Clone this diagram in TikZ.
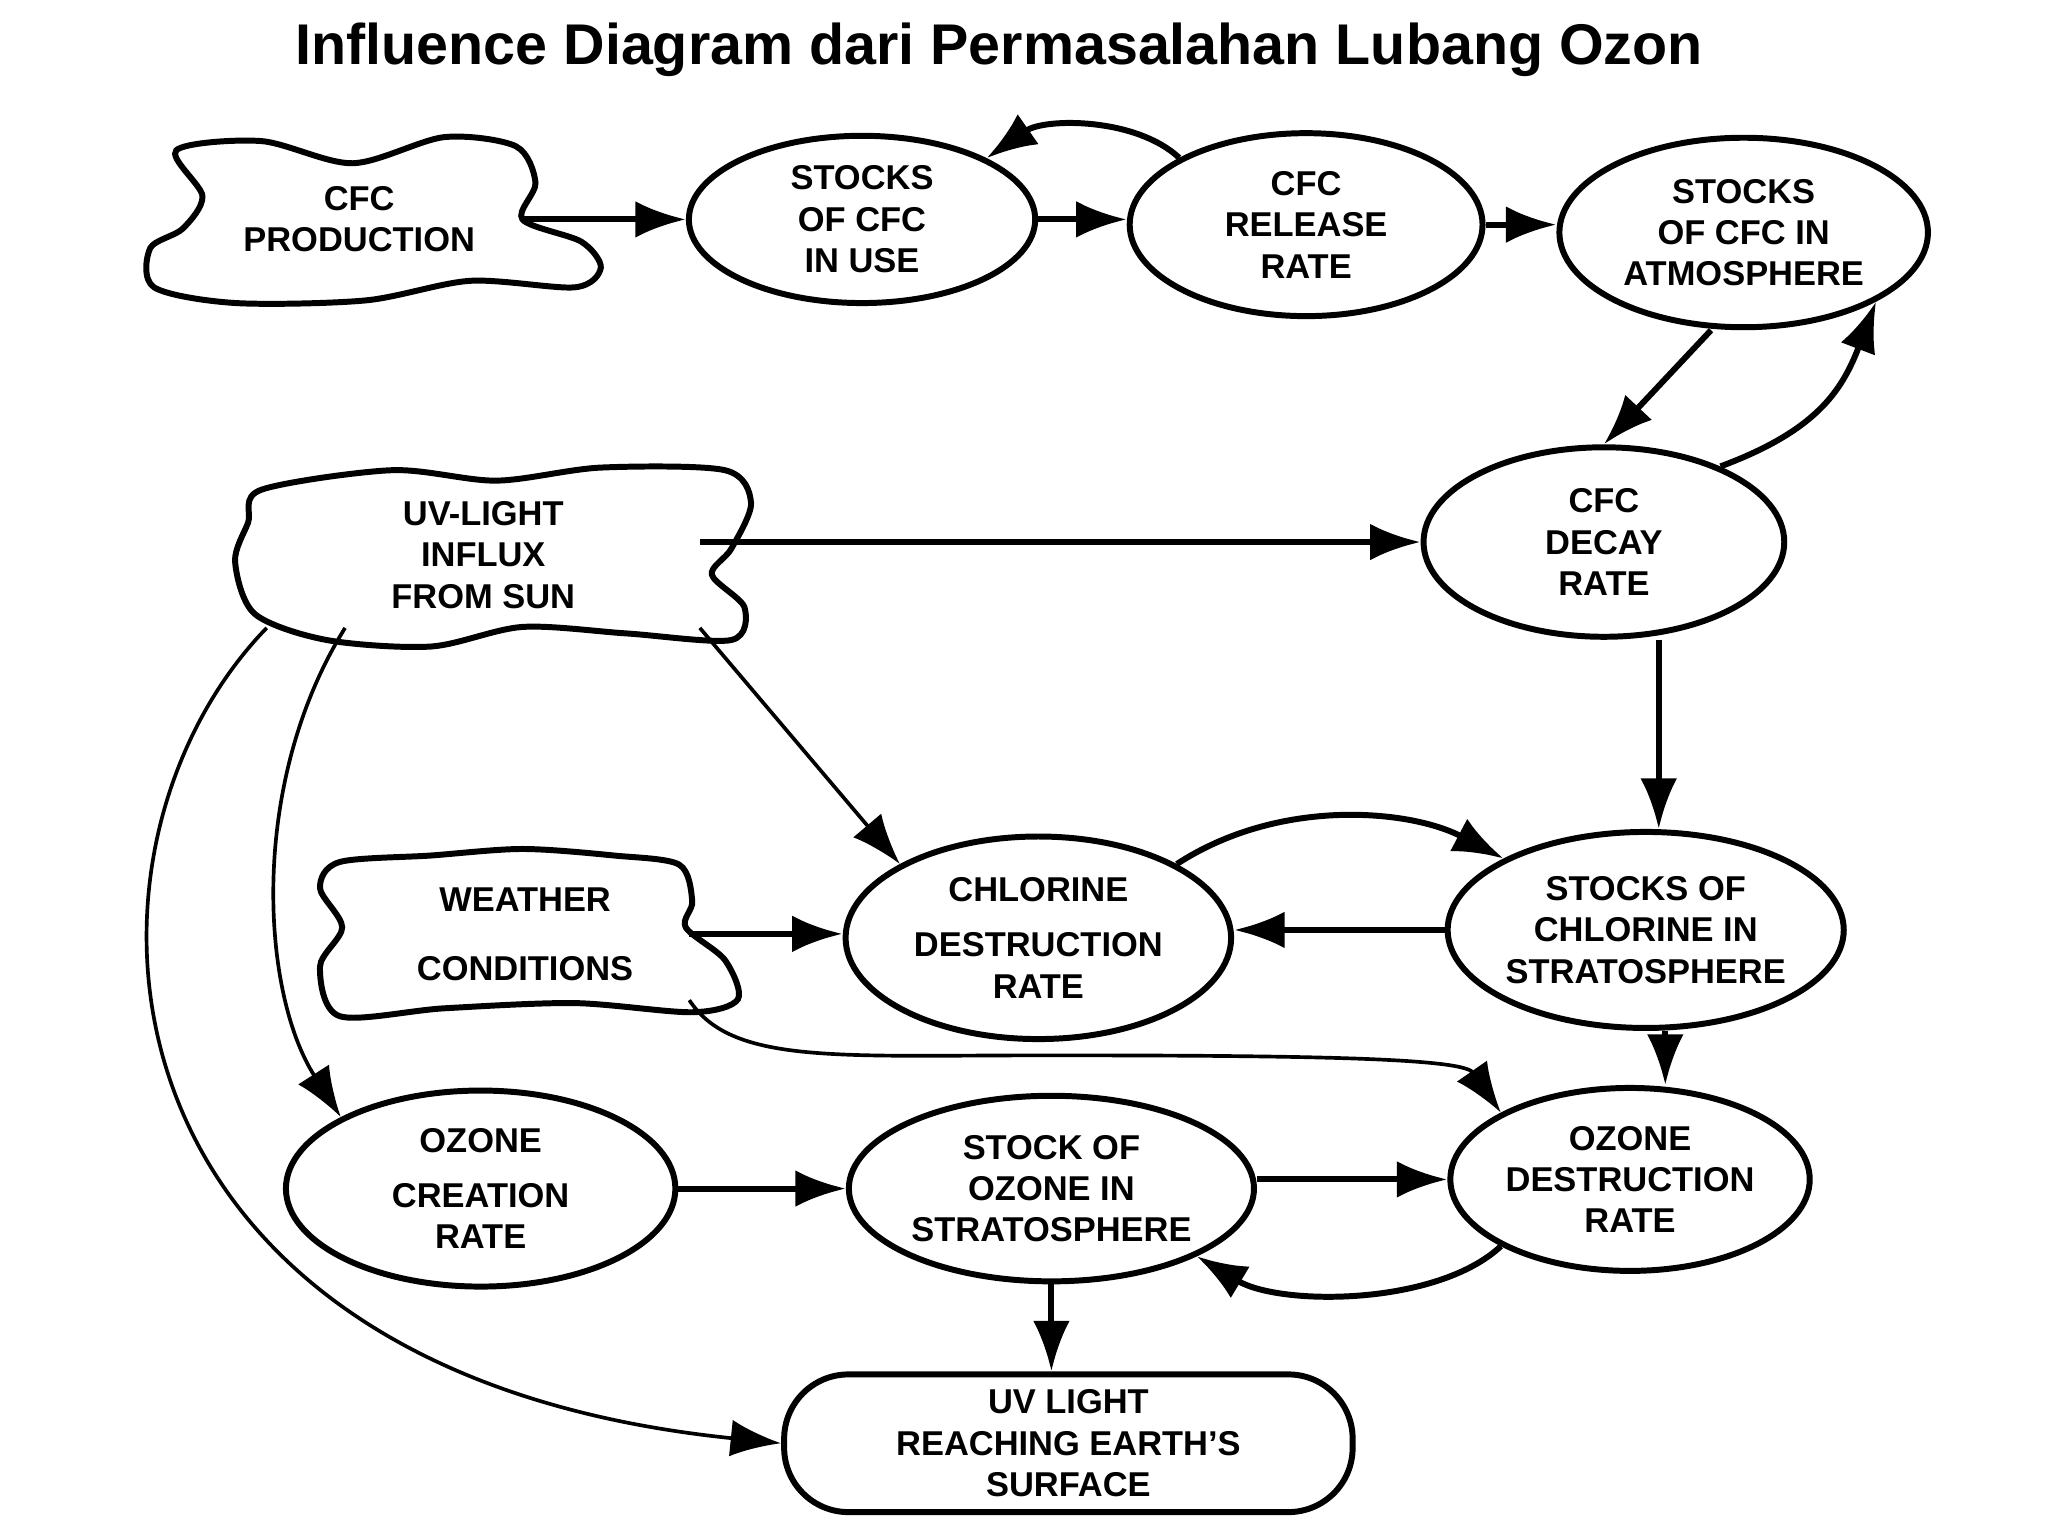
\documentclass[tikz,border=0pt]{standalone}
\usepackage{fontspec}
\setmainfont{Liberation Sans}
\usetikzlibrary{shapes.geometric,arrows.meta}
\begin{document}
\begin{tikzpicture}[x=0.01cm,y=-0.01cm,
  el/.style={ellipse,draw,line width=1.3pt,inner sep=0pt,align=center,font=\bfseries\fontsize{7.5}{9}\selectfont},
  lbl/.style={align=center,font=\bfseries\fontsize{7.5}{9}\selectfont},
  cloud/.style={line width=1.3pt},
  ar/.style={line width=1.3pt,-{Latex[length=11pt,width=8pt]}},
  tar/.style={line width=0.8pt,-{Latex[length=11pt,width=8pt]}}]
\useasboundingbox (0,0) rectangle (1568,1176);
\node[font=\bfseries\fontsize{12.5}{14}\selectfont] (title) at (765,38) {Influence Diagram dari Permasalahan Lubang Ozon};
% clouds
\draw[cloud] plot[smooth cycle] coordinates {(135,115) (200,108) (270,125) (340,105) (395,112) (410,140) (400,168) (445,185) (460,205) (440,220) (360,215) (280,230) (180,232) (118,220) (115,190) (140,175) (155,150)};
\node[lbl,minimum width=2.5cm,minimum height=0.9cm] (prod) at (275,168) {CFC\\PRODUCTION};
\draw[cloud] plot[smooth cycle] coordinates {(200,375) (300,360) (380,368) (460,358) (555,360) (575,385) (560,420) (545,440) (570,465) (560,490) (480,485) (400,480) (330,495) (250,490) (195,470) (180,430) (190,400)};
\node[lbl,minimum width=3.3cm,minimum height=1.1cm] (uv) at (370,425) {UV-LIGHT\\INFLUX\\FROM SUN};
\draw[cloud] plot[smooth cycle] coordinates {(260,660) (330,655) (400,650) (470,655) (520,662) (530,690) (525,710) (555,735) (565,765) (530,775) (440,768) (340,772) (260,778) (245,740) (262,710) (245,680)};
\node[lbl,minimum width=2.5cm,minimum height=1.0cm] (wea) at (402,715) {WEATHER\\[6pt]CONDITIONS};
% ellipses
\node[el,minimum width=2.65cm,minimum height=1.28cm] (use) at (660,168) {STOCKS\\OF CFC\\IN USE};
\node[el,minimum width=2.7cm,minimum height=1.4cm] (rel) at (1000,172) {CFC\\RELEASE\\RATE};
\node[el,minimum width=2.82cm,minimum height=1.45cm] (atm) at (1335,178) {STOCKS\\OF CFC IN\\ATMOSPHERE};
\node[el,minimum width=2.76cm,minimum height=1.45cm] (dec) at (1228,415) {CFC\\DECAY\\RATE};
\node[el,minimum width=2.95cm,minimum height=1.55cm] (cdr) at (795,718) {CHLORINE\\[3pt]DESTRUCTION\\RATE};
\node[el,minimum width=3.0cm,minimum height=1.5cm] (scl) at (1260,712) {STOCKS OF\\CHLORINE IN\\STRATOSPHERE};
\node[el,minimum width=2.98cm,minimum height=1.5cm] (ocr) at (368,910) {OZONE\\[3pt]CREATION\\RATE};
\node[el,minimum width=3.1cm,minimum height=1.42cm] (soz) at (805,910) {STOCK OF\\OZONE IN\\STRATOSPHERE};
\node[el,minimum width=2.75cm,minimum height=1.4cm] (odr) at (1248,903) {OZONE\\DESTRUCTION\\RATE};
\node[draw,line width=1.3pt,rounded corners=14pt,minimum width=4.35cm,minimum height=1.0cm,lbl] (uvr) at (818,1105) {UV LIGHT\\REACHING EARTH'S\\SURFACE};
% edges
\draw[ar] (prod.east) -- (use.west);
\draw[ar] (use.east) -- (rel.west |- use.east);
\draw[ar] (rel.north west) .. controls (870,90) and (800,90) .. (use.north east);
\draw[ar] (rel.east) -- (atm.west |- rel.east);
\draw[ar] (atm.south) ++(-25,0) coordinate (a1) -- (dec.north);
\draw[ar] (dec.north east) ++(-10,-5) coordinate (d1) .. controls (1390,330) and (1410,300) .. (atm.south east);
\draw[ar] (uv.east |- dec.west) -- (dec.west);
\draw[tar] (uv.south east) -- (cdr.north west);
\draw[tar] (uv.south west) ++(60,0) coordinate (u1) .. controls (190,600) and (200,760) .. (ocr.north west);
\draw[tar] (uv.south west) .. controls (40,650) and (60,1050) .. (uvr.west);
\draw[ar] (dec.south) ++(42,0) coordinate (d2) -- (d2 |- scl.north);
\draw[ar] (cdr.north east) .. controls (980,610) and (1080,620) .. (scl.north west);
\draw[ar] (scl.west) -- (cdr.east |- scl.west);
\draw[ar] (wea.east) -- (cdr.west |- wea.east);
\draw[tar] (wea.south east) .. controls (560,815) and (640,808) .. (800,808) .. controls (1000,808) and (1120,810) .. (odr.north west);
\draw[ar] (scl.south) ++(15,0) coordinate (s1) -- (s1 |- odr.north);
\draw[ar] (ocr.east) -- (soz.west);
\draw[ar] (soz.east |- odr.west) -- (odr.west);
\draw[ar] (odr.south west) .. controls (1100,1000) and (980,1000) .. (soz.south east);
\draw[ar] (soz.south) -- (uvr.north -| soz.south);
\end{tikzpicture}
\end{document}
